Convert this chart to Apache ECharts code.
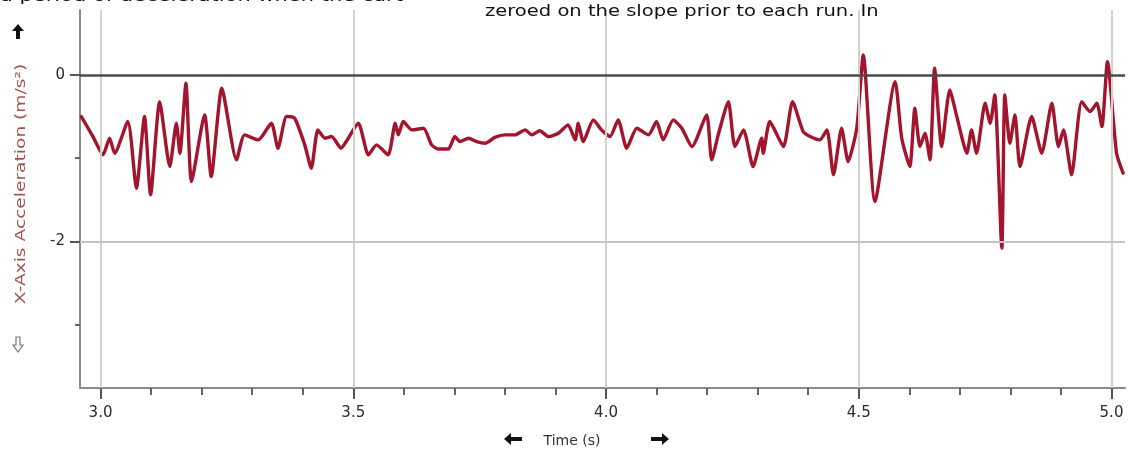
<!DOCTYPE html>
<html>
<head>
<meta charset="utf-8">
<script src="https://cdn.jsdelivr.net/npm/echarts@6/dist/echarts.min.js"></script>
<style>
html,body{margin:0;padding:0;background:#fff;}
#chart{width:1128px;height:452px;}
</style>
</head>
<body>
<div id="chart"></div>
<script>
// ---- data ----
const times = [2.962,2.985,3.005,3.018,3.028,3.054,3.071,3.087,3.099,3.117,3.137,3.150,3.157,3.169,3.180,3.206,3.219,3.240,3.269,3.285,
3.312,3.338,3.351,3.368,3.384,3.404,3.417,3.430,3.444,3.457,3.476,3.486,3.510,3.530,3.546,3.569,3.583,3.589,3.599,3.616,
3.639,3.655,3.668,3.688,3.701,3.711,3.728,3.744,3.761,3.780,3.800,3.820,3.840,3.853,3.869,3.886,3.906,3.925,3.939,3.945,
3.955,3.975,3.991,4.008,4.024,4.041,4.061,4.084,4.100,4.113,4.133,4.150,4.170,4.199,4.209,4.222,4.242,4.255,4.272,4.291,
4.308,4.311,4.324,4.351,4.369,4.390,4.404,4.423,4.437,4.450,4.466,4.479,4.496,4.509,4.532,4.572,4.585,4.601,4.611,4.621,
4.631,4.641,4.650,4.664,4.680,4.694,4.714,4.723,4.733,4.750,4.760,4.769,4.783,4.789,4.799,4.809,4.819,4.842,4.862,4.882,
4.895,4.905,4.921,4.941,4.958,4.971,4.981,4.992,5.010,5.023];
const accel = [-0.50,-0.74,-0.96,-0.76,-0.94,-0.56,-1.36,-0.50,-1.44,-0.32,-1.10,-0.58,-0.94,-0.10,-1.28,-0.48,-1.22,-0.16,-1.02,-0.72,
-0.78,-0.58,-0.88,-0.50,-0.52,-0.84,-1.12,-0.66,-0.76,-0.74,-0.88,-0.80,-0.58,-0.96,-0.84,-0.96,-0.58,-0.72,-0.56,-0.66,
-0.64,-0.84,-0.89,-0.89,-0.74,-0.80,-0.76,-0.80,-0.82,-0.75,-0.72,-0.72,-0.66,-0.72,-0.67,-0.74,-0.70,-0.60,-0.78,-0.58,
-0.80,-0.54,-0.66,-0.74,-0.54,-0.88,-0.64,-0.72,-0.56,-0.78,-0.54,-0.64,-0.86,-0.48,-1.02,-0.72,-0.32,-0.86,-0.66,-1.10,
-0.76,-0.94,-0.56,-0.86,-0.32,-0.68,-0.74,-0.78,-0.66,-1.20,-0.64,-1.04,-0.64,0.24,-1.52,-0.08,-0.76,-1.10,-0.40,-0.86,
-0.70,-1.02,0.08,-0.86,-0.18,-0.50,-0.94,-0.66,-0.94,-0.34,-0.58,-0.24,-2.08,-0.24,-0.82,-0.48,-1.10,-0.50,-0.94,-0.34,
-0.86,-0.66,-1.20,-0.32,-0.44,-0.34,-0.62,0.16,-0.94,-1.18];
const xMajorTicks = [3.0, 3.5, 4.0, 4.5, 5.0];
const xMinorTicks = [3.1, 3.2, 3.3, 3.4, 3.6, 3.7, 3.8, 3.9, 4.1, 4.2, 4.3, 4.4, 4.6, 4.7, 4.8, 4.9];
const yMajorTicks = [0, -2];
const yMinorTicks = [-1, -3];
const xGridLines = [3.0, 3.5, 4.0, 4.5, 5.0];
const yGridLines = [-2];
const yZeroLine = [0];
const xRange = [2.9594, 5.0267];
const yRange = [-3.76, 0.78];
const yAxisTitle = 'X-Axis Acceleration (m/s²)';
const xAxisTitle = 'Time (s)';
const topLine1 = 'a period of deceleration when the cart';
const topLine2 = 'zeroed on the slope prior to each run. In';

const FONT = 'DejaVu Sans';
const chart = echarts.init(document.getElementById('chart'), null, {renderer: 'canvas'});

const seriesData = times.map((t, i) => [t, accel[i]]);

const baseX = {
  type: 'value', min: xRange[0], max: xRange[1], position: 'bottom', offset: 0,
  splitLine: {show: false}
};
const baseY = {
  type: 'value', min: yRange[0], max: yRange[1], position: 'left', offset: 0,
  splitLine: {show: false}
};

const option = {
  animation: false,
  backgroundColor: '#ffffff',
  grid: {left: 80, right: 3, top: 10, bottom: 64, outerBoundsMode: 'none', containLabel: false},
  xAxis: [
    Object.assign({}, baseX, {
      axisLine: {show: true, onZero: false, lineStyle: {color: '#8a8a8a', width: 2}},
      axisTick: {show: true, customValues: xMajorTicks, length: 11, lineStyle: {color: '#555', width: 2}},
      axisLabel: {show: true, customValues: xMajorTicks, formatter: v => v.toFixed(1), margin: 18,
        fontFamily: FONT, fontSize: 15, color: '#2a2a2a'}
    }),
    Object.assign({}, baseX, {
      axisLine: {show: false, onZero: false},
      axisTick: {show: true, customValues: xMinorTicks, length: 7, lineStyle: {color: '#666', width: 2}},
      axisLabel: {show: false}
    })
  ],
  yAxis: [
    Object.assign({}, baseY, {
      axisLine: {show: true, onZero: false, lineStyle: {color: '#8a8a8a', width: 2}},
      axisTick: {show: true, customValues: yMajorTicks, length: 10, lineStyle: {color: '#555', width: 2}},
      axisLabel: {show: true, customValues: yMajorTicks, formatter: v => String(v), margin: 15,
        fontFamily: FONT, fontSize: 15, color: '#2a2a2a'}
    }),
    Object.assign({}, baseY, {
      axisLine: {show: false, onZero: false},
      axisTick: {show: true, customValues: yMinorTicks, length: 5, lineStyle: {color: '#666', width: 2}},
      axisLabel: {show: false}
    })
  ],
  series: [
    {
      type: 'line', xAxisIndex: 0, yAxisIndex: 0, data: [], z: 1, silent: true,
      markLine: {
        silent: true, symbol: ['none', 'none'], label: {show: false}, animation: false,
        data: [
          ...xGridLines.map(v => ({xAxis: v, lineStyle: {color: '#d4d0cc', width: 2, type: 'solid'}})),
          ...yGridLines.map(v => ({yAxis: v, lineStyle: {color: '#c4c4c4', width: 2, type: 'solid'}})),
          ...yZeroLine.map(v => ({yAxis: v, lineStyle: {color: '#4a4a4a', width: 2.5, type: 'solid'}}))
        ]
      }
    },
    {
      type: 'line', xAxisIndex: 0, yAxisIndex: 0, z: 3,
      data: seriesData, showSymbol: false, symbol: 'none', smooth: 0.2,
      lineStyle: {color: '#a3142d', width: 3.4, join: 'round', cap: 'round'}
    }
  ],
  graphic: [
    {type: 'text', x: 0, y: -11, scaleX: 1.31, z: 10,
      style: {text: topLine1, font: '16px ' + FONT, fill: '#111'}},
    {type: 'text', x: 485, y: 4, scaleX: 1.22, z: 10,
      style: {text: topLine2, font: '16px ' + FONT, fill: '#111'}},
    // y axis title
    {type: 'text', x: 21, y: 184, rotation: Math.PI / 2, scaleX: 1.33, z: 10,
      style: {text: yAxisTitle, font: '14px ' + FONT, fill: '#a2544c', align: 'center', verticalAlign: 'middle'}},
    // up arrow (filled)
    {type: 'polygon', z: 10,
      shape: {points: [[18, 24], [12, 31], [16, 31], [16, 39], [20, 39], [20, 31], [24, 31]]},
      style: {fill: '#111'}},
    // down arrow (hollow)
    {type: 'polygon', z: 10,
      shape: {points: [[16, 337], [20, 337], [20, 345], [23, 345], [18, 352], [13, 345], [16, 345]]},
      style: {fill: '#fff', stroke: '#777', lineWidth: 1.2}},
    // x axis title
    {type: 'text', x: 572, y: 441, z: 10,
      style: {text: xAxisTitle, font: '14px ' + FONT, fill: '#333', align: 'center', verticalAlign: 'middle'}},
    // left arrow
    {type: 'polygon', z: 10,
      shape: {points: [[504, 439], [511, 433], [511, 437], [522, 437], [522, 441], [511, 441], [511, 445]]},
      style: {fill: '#111'}},
    // right arrow
    {type: 'polygon', z: 10,
      shape: {points: [[669, 439], [662, 433], [662, 437], [651, 437], [651, 441], [662, 441], [662, 445]]},
      style: {fill: '#111'}}
  ]
};
chart.setOption(option);
</script>
</body>
</html>
